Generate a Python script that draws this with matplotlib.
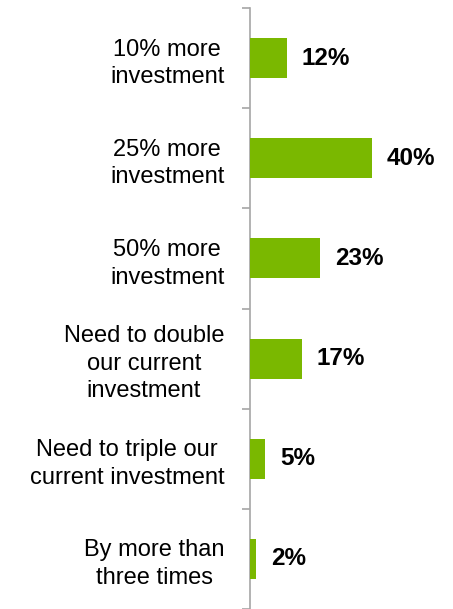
import matplotlib
matplotlib.use("Agg")
import matplotlib.pyplot as plt
import numpy as np

categories = [
    "10% more\ninvestment",
    "25% more\ninvestment",
    "50% more\ninvestment",
    "Need to double\nour current\ninvestment",
    "Need to triple our\ncurrent investment",
    "By more than\nthree times",
]
values = [12, 40, 23, 17, 5, 2]

plt.rcParams["font.family"] = ["Liberation Sans", "DejaVu Sans"]

W, H = 453, 609
fig = plt.figure(figsize=(W / 100, H / 100), dpi=100)
ax = fig.add_axes([250 / W, 0, 1 - 250 / W, 1 - 8 / H])

n = len(categories)
pos = np.arange(n)
ax.barh(pos, values, height=0.4, color="#7ab800", zorder=3)
ax.set_ylim(n - 0.5, -0.5)
ax.set_xlim(0, 66.5)

for y, v in zip(pos, values):
    ax.annotate(f"{v}%", (v, y), xytext=(10.5, 0), textcoords="offset points",
                ha="left", va="center", fontsize=17.5, fontweight="bold", color="black")

# boundaries carry the tick marks, centers carry the labels
ax.set_yticks(np.arange(n + 1) - 0.5)
ax.set_yticklabels([])
ax.set_yticks(pos, minor=True)
ax.set_yticklabels(categories, minor=True, fontsize=17, color="black",
                   multialignment="center", linespacing=1.33)
ax.tick_params(axis="y", which="major", length=6, width=1.2, color="#a6a6a6", direction="out")
ax.tick_params(axis="y", which="minor", length=0, pad=18.5)

ax.set_xticks([])
for s in ["top", "right", "bottom"]:
    ax.spines[s].set_visible(False)
ax.spines["left"].set_color("#a6a6a6")
ax.spines["left"].set_linewidth(1.2)

fig.savefig("out.png", dpi=100)
